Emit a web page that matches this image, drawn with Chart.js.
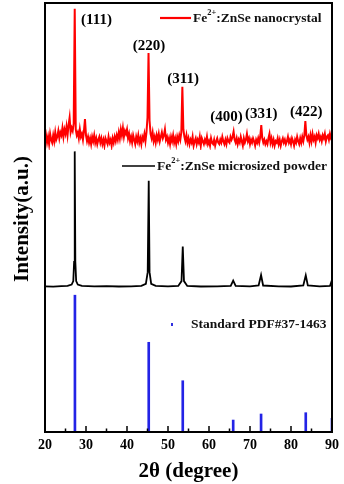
<!DOCTYPE html>
<html><head><meta charset="utf-8">
<script src="https://cdn.jsdelivr.net/npm/chart.js@4.4.1/dist/chart.umd.min.js"></script>
<style>html,body{margin:0;padding:0;background:#fff;}#wrap{width:344px;height:484px;}</style>
</head><body><div id="wrap"><canvas id="c" width="344" height="484"></canvas></div>
<script>
// ---- data ----
const redStart = 20;          // first 2θ of the nanocrystal scan
const redStep = 0.25;         // 2θ sampling of the nanocrystal scan
const redIntensity = [
  6,10,5,9,   4,11,7,5,   10,6,12,7,  9,13,8,12,  10,15,9,14,  11,16,10,17, 22,12,15,13,
  18,96,14,10, 12,8,14,9,  11,7,13,21, 10,6,9,5,   8,4,9,6,    10,5,8,4,   7,9,5,8,
  4,7,3,8,    6,4,9,5,    7,3,8,5,    9,6,10,7,   12,8,14,10, 15,9,13,11, 14,8,11,6,
  9,5,10,7,   4,9,6,10,   5,8,4,9,    7,11,6,12,  22,66,20,11, 8,12,6,9,  5,10,7,11,
  6,9,12,8,   10,14,7,9,  5,8,4,9,    6,10,5,8,   4,9,6,10,   7,12,43,14, 9,6,10,5,
  8,4,7,5,    9,3,6,8,    4,7,5,9,    3,8,6,4,    7,5,9,4,    6,3,8,5,    4,7,3,6,
  8,5,4,7,    5,9,6,4,    7,4,8,6,    5,9,7,9,    12.5,7,5,8, 4,7,5,9,    6,3,8,5,
  7,11,6,8,   4,7,5,8,    6,3,7,5,    8,5,9,17,   8,5,7,4,    6,4,8,11,   5,8,4,7,
  3,6,5,8,    4,7,3,6,    8,5,7,4,    6,9,5,7,    4,8,6,3,    7,5,9,6,    4,8,5,9,
  6,10,19.6,10, 7,9,5,10, 6,11,7,9,   5,10,8,11,  7,9,6,10,   8,11,6,9,   10,7,11,8,
  9
];
const blackTheta = [20,22,24,25.5,26.5,26.9,27.1,27.25,27.4,27.6,28,29,32,35,38,41,43.5,44.6,45.05,45.3,45.5,45.9,47,50,52.5,53.3,53.6,53.9,54.7,58,62,65.3,65.9,66.5,70,72.1,72.7,73.2,77,80,83.0,83.6,84.1,87,89.5,89.9,90];
const blackIntensity = [1.2,1.0,1.3,1.5,2.5,5,19,99,19,5,2.5,1.5,1.2,1.3,1.1,1.2,1.5,3,11.5,77.8,11.5,3,1.5,1.2,1.5,5,30,5,1.5,1.1,1.2,1.6,5.3,1.6,1.2,1.8,9.4,1.8,1.2,1.1,1.8,9.2,1.8,1.2,1.5,5,5];
const stdTheta = [27.3, 45.3, 53.6, 65.9, 72.7, 83.6, 90.0];
const stdIntensity = [95, 62.3, 35.6, 8.3, 12.5, 13.4, 9.5];
const peakLabels = ['(111)','(220)','(311)','(400)','(331)','(422)'];
const peakLabelTheta = [32.55, 45.34, 53.67, 64.29, 72.74, 83.72];
const peakLabelLevel = [88.4, 70.7, 48.3, 22.4, 24.5, 25.5];
const majorTicks = [30,40,50,60,70,80];
const minorTicks = [25,35,45,55,65,75,85];

const SERIF = '"Liberation Serif", "Times New Roman", serif';
Chart.defaults.font.family = SERIF;

const redData = redIntensity.map((v,i)=>({x: redStart + i*redStep, y: v}));
const blackData = blackTheta.map((t,i)=>({x:t, y: blackIntensity[i]}));
const stdData = stdTheta.map((t,i)=>({x:t, y: stdIntensity[i]}));

function panelAxis(weight, title){
  return {
    type:'linear', position:'left', stack:'panels', stackWeight:weight, min:0, max:100,
    ticks:{display:false}, grid:{display:false, drawTicks:false}, border:{display:false},
    title: title ? {display:true, text:title, color:'#000', font:{family:SERIF, weight:'bold', size:21}, padding:{top:10,bottom:0}} : {display:false},
    afterFit(s){ s.width = 45; }
  };
}

function drawFe(ctx, x, y, rest, size){
  ctx.font = 'bold ' + size + 'px ' + SERIF;
  ctx.textBaseline = 'middle'; ctx.textAlign = 'left';
  ctx.fillText('Fe', x, y);
  let w = ctx.measureText('Fe').width;
  ctx.font = 'bold ' + (size*0.62) + 'px ' + SERIF;
  ctx.fillText('2+', x + w, y - size*0.45);
  w += ctx.measureText('2+').width;
  ctx.font = 'bold ' + size + 'px ' + SERIF;
  ctx.fillText(rest, x + w, y);
}

const decor = {
  id:'decor',
  afterDatasetsDraw(chart){
    const {ctx, chartArea:a, scales} = chart;
    const xs = scales.x;
    ctx.save();
    ctx.strokeStyle = '#000'; ctx.fillStyle = '#000';
    ctx.lineWidth = 1.5;
    ctx.beginPath();
    majorTicks.forEach(v=>{ const px = xs.getPixelForValue(v); ctx.moveTo(px, a.bottom); ctx.lineTo(px, a.bottom-6); });
    minorTicks.forEach(v=>{ const px = xs.getPixelForValue(v); ctx.moveTo(px, a.bottom); ctx.lineTo(px, a.bottom-3.5); });
    ctx.stroke();
    ctx.lineWidth = 2;
    ctx.strokeRect(a.left, a.top, a.width, a.height);
    // peak labels
    ctx.font = 'bold 15px ' + SERIF;
    ctx.textAlign = 'center'; ctx.textBaseline = 'middle';
    peakLabels.forEach((t,i)=>{
      ctx.fillText(t, xs.getPixelForValue(peakLabelTheta[i]), scales.yRed.getPixelForValue(peakLabelLevel[i]));
    });
    // legends
    ctx.lineWidth = 2.2;
    ctx.strokeStyle = '#ff0000';
    ctx.beginPath(); ctx.moveTo(160, 18); ctx.lineTo(191, 18); ctx.stroke();
    ctx.fillStyle = '#111';
    drawFe(ctx, 193, 18.5, ':ZnSe nanocrystal', 13.5);
    ctx.strokeStyle = '#000'; ctx.lineWidth = 1.5;
    ctx.beginPath(); ctx.moveTo(122, 166); ctx.lineTo(155, 166); ctx.stroke();
    drawFe(ctx, 157, 166.5, ':ZnSe microsized powder', 13.5);
    ctx.fillStyle = '#3030e0';
    ctx.fillRect(171, 323, 2, 3);
    ctx.fillStyle = '#111';
    ctx.font = 'bold 13.5px ' + SERIF; ctx.textAlign = 'left';
    ctx.fillText('Standard PDF#37-1463', 191, 324.5);
    ctx.restore();
  }
};

new Chart(document.getElementById('c'), {
  type:'line',
  data:{ datasets:[
    {label:'Fe2+:ZnSe nanocrystal', data:redData, yAxisID:'yRed', borderColor:'#ff0000', borderWidth:2, pointRadius:0, tension:0},
    {label:'Fe2+:ZnSe microsized powder', data:blackData, yAxisID:'yBlack', borderColor:'#000', borderWidth:1.8, pointRadius:0, tension:0},
    {type:'bar', label:'Standard PDF#37-1463', data:stdData, yAxisID:'yBlue', backgroundColor:'#2323e6', barThickness:2}
  ]},
  plugins:[decor],
  options:{
    responsive:false, animation:false, devicePixelRatio:1,
    layout:{padding:{left:0, right:9, top:3, bottom:0}},
    plugins:{legend:{display:false}, tooltip:{enabled:false}},
    scales:{
      x:{type:'linear', position:'bottom', min:20, max:90, offset:false,
         ticks:{stepSize:10, color:'#000', font:{family:SERIF, weight:'bold', size:14}, padding:5, maxRotation:0, autoSkip:false},
         grid:{display:false, drawTicks:false, offset:false}, border:{display:false},
         title:{display:true, text:'2θ (degree)', color:'#000', font:{family:SERIF, weight:'bold', size:21}, padding:{top:0,bottom:0}},
         afterFit(s){ s.height = 52; }},
      yBlue: panelAxis(144),
      yBlack: panelAxis(138, 'Intensity(a.u.)'),
      yRed: panelAxis(147)
    }
  }
});
</script></body></html>
